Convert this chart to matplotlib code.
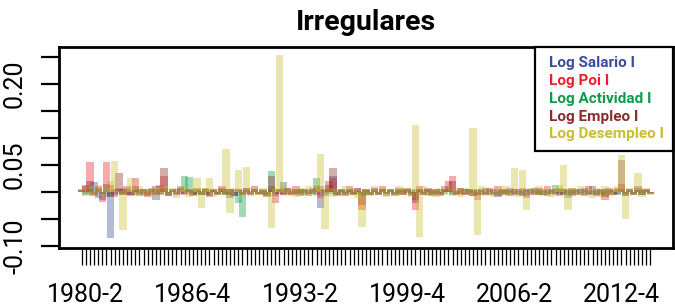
import numpy as np
import matplotlib
matplotlib.use("Agg")
import matplotlib.pyplot as plt
from matplotlib.lines import Line2D
from matplotlib.ticker import FixedLocator, FixedFormatter

plt.rcParams['font.family'] = ['Roboto', 'DejaVu Sans']

# Quarterly index 1980-1 .. 2014-3 (139 quarters)
n_obs = 139
tick_label_pos = [2, 28, 54, 80, 106, 132]
tick_labels = ["1980-2", "1986-4", "1993-2", "1999-4", "2006-2", "2012-4"]

series_names = ["Log Salario I", "Log Poi I", "Log Actividad I", "Log Empleo I", "Log Desempleo I"]
series_colors = ["#3B4BA0", "#E8202A", "#0E9A48", "#8B2B2B", "#C8BE2E"]

# values in thousandths
salario = [2, -4, 6, 18, -12, -15, -10, -85, -6, 5,
           -3, 4, -8, 3, 6, -5, 2, -6, -15, 4,
           8, -3, 2, 5, -4, 3, -2, 4, -3, 2,
           -5, 3, 2, -4, 5, -3, -12, 4, -2, 3,
           -4, 2, 5, -3, 2, -6, 4, -3, 5, 18,
           -4, 2, -3, 5, -2, 3, -4, 2, -30, 4,
           8, 30, -5, 3, -2, 4, -3, 2, -6, 3,
           -2, 4, -3, 5, -2, 3, -4, 2, 3, -2,
           4, -15, 3, -2, 5, -3, 2, -4, 3, 6,
           -3, 2, -4, 5, -2, 3, -5, 2, -3, 4,
           -2, -10, 3, -2, 4, -3, 2, -5, 3, -2,
           4, -3, 2, -4, 3, -2, 5, -3, 2, -4,
           3, -2, 4, -3, 2, -6, 3, -8, 2, 4,
           -3, 5, -4, 2, -3, 4, -2, 3, -2]

poi = [5, 12, 55, -8, 10, -18, 55, 12, -10, 8,
       -6, 10, -5, 25, -8, 6, -10, 8, -5, 12,
       30, -8, 6, -5, 10, -6, 4, -8, 6, -5,
       8, -10, 5, -6, 10, -4, 6, -8, 5, -6,
       8, -5, 10, -6, 4, -8, 10, -20, 6, -5,
       8, -6, 10, -4, 6, -8, 5, 10, -12, 6,
       20, 25, -8, 6, -5, 10, -6, 8, -33, 6,
       -5, 8, -6, 10, -4, 6, -8, 5, -6, 8,
       -5, -33, 10, -6, 5, -8, 6, -5, 10, 20,
       30, -6, 8, -5, 6, -8, -15, 5, -6, 8,
       -5, 10, -4, 6, -8, 5, -6, 8, -12, 6,
       -5, 8, -6, 10, -4, 6, -8, 5, -6, 8,
       -5, 6, -8, 10, -4, 6, -6, -15, 8, -5,
       6, 15, -8, 5, -6, 8, -5, 6, -4]

actividad = [3, -5, 8, -4, 6, -3, 5, -6, 4, -3,
             5, -4, 3, -6, 4, -3, 5, -4, 6, -3,
             4, -5, 3, -4, 6, 30, 28, -5, 4, -6,
             5, -3, 4, -5, 3, -6, 5, -8, -20, -46,
             6, -4, 5, -3, 4, -6, 38, 5, -4, 6,
             -3, 5, -4, 3, -6, 4, -3, 25, 5, -4,
             6, -3, 4, -5, 3, -4, 5, -3, -8, 4,
             -5, 3, -4, 6, -3, 4, -5, 3, -4, 5,
             -3, 6, -4, 3, -5, 4, -3, 5, -4, 3,
             -5, 4, -3, 6, -4, 3, -5, 4, -3, 5,
             -4, 3, -5, 4, -3, 6, -4, 3, -8, 5,
             -3, 4, -5, 3, -4, 12, -3, 5, -12, 4,
             -3, 5, -4, 3, -5, 4, -3, 6, -4, 3,
             -5, 4, -3, 5, -4, 3, -5, 4, -3]

empleo = [4, 10, 20, -6, 8, -4, 15, -10, 5, 35,
          -6, 8, -5, 10, -4, 6, -8, 5, 10, -6,
          45, -8, 6, -5, 8, -4, 6, -5, 8, -6,
          5, -8, 6, -4, 8, -6, 5, -8, 6, -5,
          8, -6, 5, -4, 6, -10, 30, -8, 6, -5,
          8, -6, 5, -8, 6, -4, 8, -6, 10, -8,
          12, 44, -6, 5, -8, 6, -5, 8, -25, 6,
          -5, 8, -6, 5, -8, 6, -4, 8, -6, 5,
          -8, -20, 6, -5, 8, -6, 5, -8, 6, 10,
          20, -6, 8, -5, 6, -8, 5, -6, 8, -5,
          6, -8, 5, -6, 8, -5, 6, -8, 5, -6,
          8, -5, 6, -8, 5, -6, 8, -5, 6, -8,
          5, -6, 8, -5, 10, -8, 6, -10, 5, -6,
          8, 60, -8, 6, -5, 10, -6, 5, -4]

desempleo = [5, -8, 10, -6, 12, -10, 8, 20, 58, 2,
             -70, 8, 25, -6, 10, -8, 6, -10, 8, -5,
             10, -6, 8, -12, 5, 10, -10, 6, 25, -30,
             8, 25, -10, 6, -5, 80, -40, 8, 40, -12,
             46, -8, 10, -6, 8, -10, -67, 5, 254, 10,
             -8, 6, -10, 8, -6, 10, -8, 12, 70, -68,
             8, -10, 6, -8, 10, -6, 8, -12, -65, 6,
             -8, 10, -6, 8, -10, 6, -8, 10, -6, 8,
             -10, 124, -84, 10, -8, 6, -10, 8, -6, 10,
             -8, 6, -10, 8, -6, 118, -80, 10, -8, 6,
             -10, 8, -6, 10, -8, 45, -10, 40, -33, 8,
             -6, 10, -8, 6, -10, 8, 12, 50, -33, 8,
             -6, 10, -8, 6, -12, 8, -10, 10, -8, 6,
             10, 68, -50, 8, -6, 35, -10, 8, -6]

all_series = [salario, poi, actividad, empleo, desempleo]

fig = plt.figure(figsize=(6.75, 3.06), dpi=100)
ax = fig.add_axes([59 / 675, 1 - 248 / 306, (673 - 59) / 675, (248 - 47) / 306])

x = np.arange(1, n_obs + 1)
for vals, col in zip(all_series, series_colors):
    ax.bar(x, np.array(vals) / 1000.0, width=1.8, color=col, alpha=0.38, linewidth=0)

ax.set_xlim(1 - 0.04 * (n_obs - 1), n_obs + 0.04 * (n_obs - 1))
ax.set_ylim(-0.104, 0.2685)

# x axis: tick every quarter, labels sparse
ax.xaxis.set_major_locator(FixedLocator(tick_label_pos))
ax.xaxis.set_major_formatter(FixedFormatter(tick_labels))
ax.xaxis.set_minor_locator(FixedLocator([i for i in x if i not in tick_label_pos]))
ax.tick_params(axis='x', which='both', length=12, width=0.9, pad=13, labelsize=18)

yt = [-0.10, -0.05, 0.0, 0.05, 0.10, 0.15, 0.20, 0.25]
ylab = ["-0.10", "", "", "0.05", "", "", "0.20", ""]
ax.yaxis.set_major_locator(FixedLocator(yt))
ax.yaxis.set_major_formatter(FixedFormatter(ylab))
ax.tick_params(axis='y', which='major', length=13, width=1.6, pad=10, labelsize=18)
for lab in ax.get_yticklabels():
    lab.set_rotation(90)
    lab.set_va('center')

for sp in ax.spines.values():
    sp.set_linewidth(2.0)

ax.set_title("Irregulares", fontsize=20.5, fontweight='bold', pad=12)

handles = [Line2D([], [], linestyle='none') for _ in series_names]
leg = ax.legend(handles, series_names, loc='upper right', borderaxespad=0,
                handlelength=0.3, handletextpad=0, labelcolor=series_colors,
                prop={'weight': 'bold', 'size': 11}, frameon=True,
                fancybox=False, edgecolor='black', framealpha=1,
                borderpad=0.6, labelspacing=0.25)
leg.get_frame().set_linewidth(1.6)

fig.savefig("out.png", dpi=100)
